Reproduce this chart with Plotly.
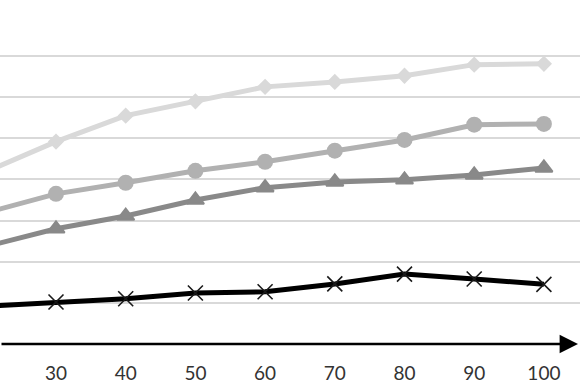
import plotly.graph_objects as go

x_vals = [20, 30, 40, 50, 60, 70, 80, 90, 100]
tick_labels = ["20", "30", "40", "50", "60", "70", "80", "90", "100"]

series_light = [4.19, 4.92, 5.55, 5.90, 6.25, 6.37, 6.52, 6.79, 6.81]
series_medium = [3.19, 3.65, 3.92, 4.21, 4.43, 4.70, 4.96, 5.33, 5.35]
series_dark = [2.37, 2.80, 3.11, 3.50, 3.80, 3.94, 3.99, 4.11, 4.28]
series_black = [0.92, 1.02, 1.10, 1.24, 1.27, 1.46, 1.70, 1.58, 1.45]

fig = go.Figure()
fig.add_trace(go.Scatter(x=x_vals, y=series_black, mode="lines+markers",
                         line=dict(color="#000000", width=5),
                         marker=dict(symbol="x-thin", size=15, line=dict(color="#1a1a1a", width=1.6))))
fig.add_trace(go.Scatter(x=x_vals, y=series_dark, mode="lines+markers",
                         line=dict(color="#898989", width=5),
                         marker=dict(symbol="triangle-up", size=15, color="#898989",
                                     line=dict(color="#898989", width=2))))
fig.add_trace(go.Scatter(x=x_vals, y=series_medium, mode="lines+markers",
                         line=dict(color="#b1b1b1", width=5),
                         marker=dict(symbol="circle", size=16, color="#b1b1b1")))
fig.add_trace(go.Scatter(x=x_vals, y=series_light, mode="lines+markers",
                         line=dict(color="#d9d9d9", width=5),
                         marker=dict(symbol="diamond", size=12.5, color="#d9d9d9")))

x_min = 30 - 56 / 6.97
x_max = 30 + (580 - 56) / 6.97
x_tip = 30 + (578 - 56) / 6.97

fig.add_annotation(x=x_tip, y=0, ax=x_min, ay=0, xref="x", yref="y", axref="x", ayref="y",
                   showarrow=True, arrowhead=2, arrowsize=1.6, arrowwidth=2.3,
                   arrowcolor="#000000", text="")

fig.update_layout(
    width=580, height=387,
    margin=dict(l=0, r=0, t=50, b=43, autoexpand=False),
    paper_bgcolor="white", plot_bgcolor="white",
    showlegend=False,
    xaxis=dict(range=[x_min, x_max], tickvals=x_vals, ticktext=tick_labels,
               showgrid=False, zeroline=False, showline=False, ticks="",
               tickfont=dict(family="Lato", size=19, color="#333333"),
               ticklabelstandoff=16),
    yaxis=dict(range=[0, 7 + 6 / 41.14], dtick=1, showgrid=True, gridcolor="#d9d9d9", gridwidth=1.5,
               zeroline=False, showline=False, showticklabels=False, ticks=""),
)

fig.write_html("out.html", config={"displayModeBar": False},
               post_script="document.body.style.margin='0';")
